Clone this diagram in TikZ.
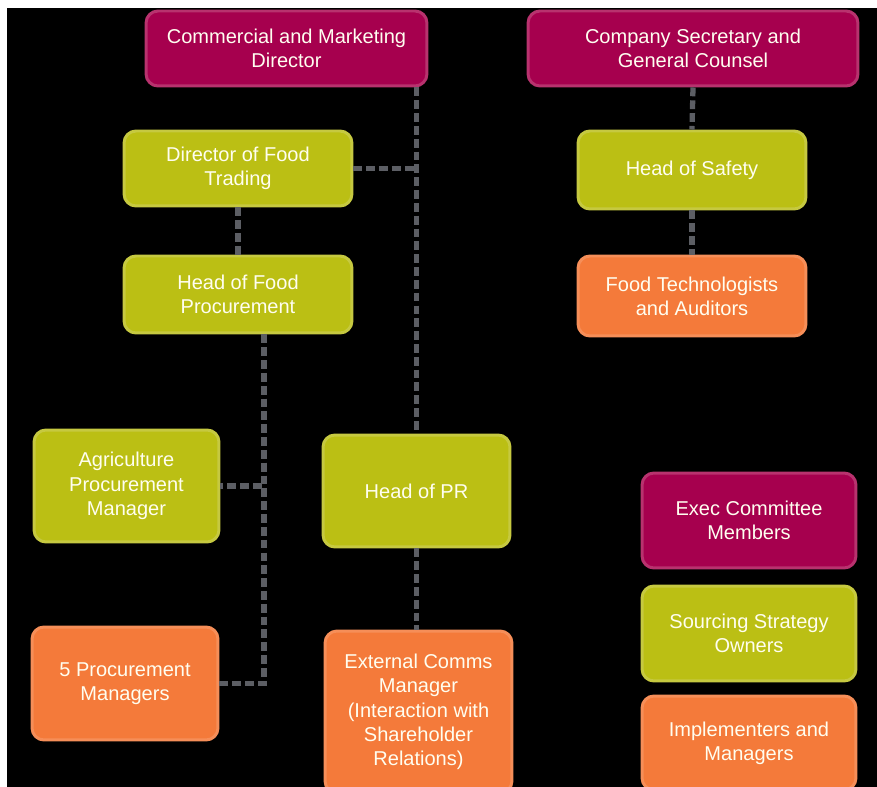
\documentclass[tikz,border=0pt]{standalone}
\usepackage{fontspec}
\setmainfont{Liberation Sans}
\usepackage{tikz}

\definecolor{execred}{RGB}{166,0,78}
\definecolor{execrim}{RGB}{184,50,110}
\definecolor{sourcegreen}{RGB}{187,191,20}
\definecolor{sourcerim}{RGB}{198,201,64}
\definecolor{implorange}{RGB}{244,122,58}
\definecolor{implrim}{RGB}{246,142,88}
\definecolor{linkgray}{RGB}{92,94,100}

\tikzset{
  box/.style={rounded corners=0.24cm, line width=1.7pt, align=center,
    text=white!94!yellow, inner sep=2pt,
    font=\fontsize{11.4}{13.8}\selectfont},
  exec/.style={box, fill=execred, draw=execrim},
  sourcing/.style={box, fill=sourcegreen, draw=sourcerim},
  impl/.style={box, fill=implorange, draw=implrim},
  link/.style={draw=linkgray, line width=3pt, dash pattern=on 5pt off 2.3pt}
}

\begin{document}
\begin{tikzpicture}[x=0.02cm,y=-0.02cm]
\useasboundingbox (0,0) rectangle (877,787);
\clip (0,0) rectangle (877,787);
\fill[white] (0,0) rectangle (877,787);
\fill[black] (7,8) rectangle (877,787);

% top row
\node[exec, minimum width=5.62cm, minimum height=1.5cm] (cmd) at (286.5,48.5) {Commercial and Marketing\\Director};
\node[exec, minimum width=6.6cm, minimum height=1.5cm] (csg) at (693,48.5) {Company Secretary and\\General Counsel};

% second and third rows
\node[sourcing, minimum width=4.56cm, minimum height=1.5cm] (dft) at (238,168.5) {Director of Food\\Trading};
\node[sourcing, minimum width=4.56cm, minimum height=1.56cm] (hos) at (692,170) {Head of Safety};
\node[sourcing, minimum width=4.56cm, minimum height=1.54cm] (hfp) at (238,294.5) {Head of Food\\Procurement};
\node[impl, minimum width=4.56cm, minimum height=1.6cm] (fta) at (692,296) {Food Technologists\\and Auditors};

% lower part
\node[sourcing, minimum width=3.7cm, minimum height=2.24cm] (apm) at (126.5,486) {Agriculture\\Procurement\\Manager};
\node[sourcing, minimum width=3.74cm, minimum height=2.24cm] (hpr) at (416.5,491) {Head of PR};
\node[impl, minimum width=3.72cm, minimum height=2.26cm] (fpm) at (125,683.5) {5 Procurement\\Managers};
\node[impl, minimum width=3.74cm, minimum height=3.24cm] (ext) at (418.5,712) {External Comms\\Manager\\(Interaction with\\Shareholder\\Relations)};

% key
\node[exec, minimum width=4.28cm, minimum height=1.9cm] (keyexec) at (749,520.5) {Exec Committee\\Members};
\node[sourcing, minimum width=4.28cm, minimum height=1.9cm] (keysrc) at (749,633.5) {Sourcing Strategy\\Owners};
\node[impl, minimum width=4.28cm, minimum height=1.88cm] (keyimpl) at (749,743) {Implementers and\\Managers};

% reporting lines
\draw[link] (hpr.north |- cmd.south) -- (hpr.north);
\draw[link] (dft.east) -- (dft.east -| hpr.north);
\draw[link] (dft.south) -- (hfp.north);
\draw[link] ([xshift=0.52cm]hfp.south) |- (apm.east);
\draw[link] ([xshift=0.52cm]hfp.south) |- (fpm.east);
\draw[link] (hpr.south) -- (ext.north -| hpr.south);
\draw[link] (csg.south) -- (hos.north);
\draw[link] (hos.south) -- (fta.north);
\end{tikzpicture}
\end{document}
